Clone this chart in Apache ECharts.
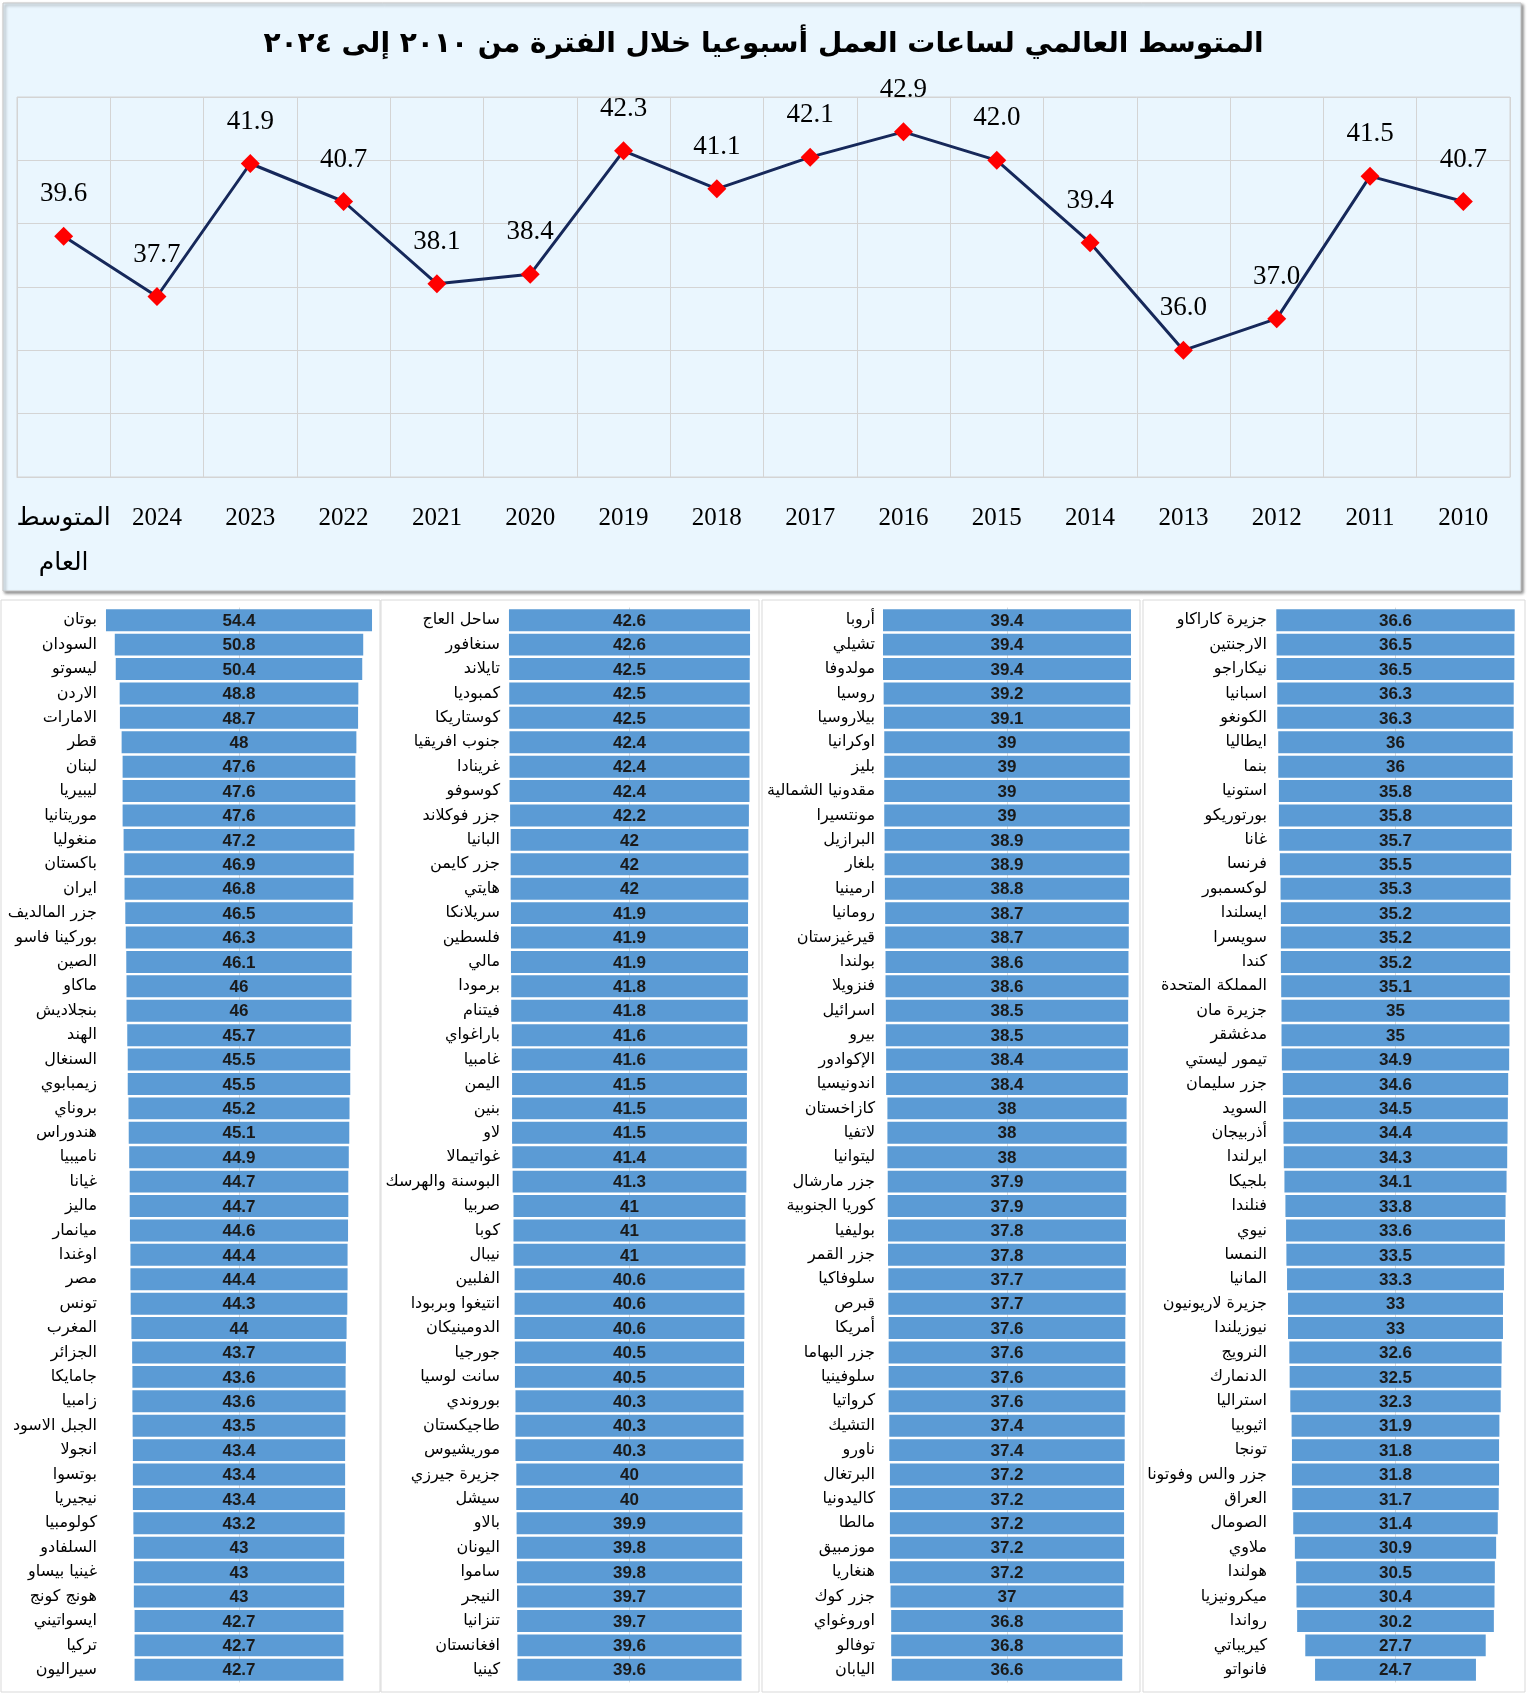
<!DOCTYPE html>
<html>
<head>
<meta charset="utf-8">
<script src="https://cdn.jsdelivr.net/npm/echarts@6/dist/echarts.min.js"></script>
<style>
html,body{margin:0;padding:0;background:#fff;}
#chart{width:1527px;height:1693px;}
</style>
</head>
<body>
<div id="chart"></div>
<script>
// ---------- DATA ----------
const titleText = 'المتوسط العالمي لساعات العمل أسبوعيا خلال الفترة من ٢٠١٠ إلى ٢٠٢٤';
const years = ['المتوسط\nالعام','2024','2023','2022','2021','2020','2019','2018','2017','2016','2015','2014','2013','2012','2011','2010'];
const avgHours = [39.6, 37.7, 41.9, 40.7, 38.1, 38.4, 42.3, 41.1, 42.1, 42.9, 42.0, 39.4, 36.0, 37.0, 41.5, 40.7];

const countries1 = ['بوتان','السودان','ليسوتو','الاردن','الامارات','قطر','لبنان','ليبيريا','موريتانيا','منغوليا','باكستان','ايران','جزر المالديف','بوركينا فاسو','الصين','ماكاو','بنجلاديش','الهند','السنغال','زيمبابوي','بروناي','هندوراس','ناميبيا','غيانا','ماليز','ميانمار','اوغندا','مصر','تونس','المغرب','الجزائر','جامايكا','زامبيا','الجبل الاسود','انجولا','بوتسوا','نيجيريا','كولومبيا','السلفادو','غينيا بيساو','هونج كونج','ايسواتيني','تركيا','سيراليون'];
const hours1 = [54.4,50.8,50.4,48.8,48.7,48,47.6,47.6,47.6,47.2,46.9,46.8,46.5,46.3,46.1,46,46,45.7,45.5,45.5,45.2,45.1,44.9,44.7,44.7,44.6,44.4,44.4,44.3,44,43.7,43.6,43.6,43.5,43.4,43.4,43.4,43.2,43,43,43,42.7,42.7,42.7];

const countries2 = ['ساحل العاج','سنغافور','تايلاند','كمبوديا','كوستاريكا','جنوب افريقيا','غرينادا','كوسوفو','جزر فوكلاند','البانيا','جزر كايمن','هايتي','سريلانكا','فلسطين','مالي','برمودا','فيتنام','باراغواي','غامبيا','اليمن','بنين','لاو','غواتيمالا','البوسنة والهرسك','صربيا','كوبا','نيبال','الفلبين','انتيغوا وبربودا','الدومينيكان','جورجيا','سانت لوسيا','بوروندي','طاجيكستان','موريشيوس','جزيرة جيرزي','سيشل','بالاو','اليونان','ساموا','النيجر','تنزانيا','افغانستان','كينيا'];
const hours2 = [42.6,42.6,42.5,42.5,42.5,42.4,42.4,42.4,42.2,42,42,42,41.9,41.9,41.9,41.8,41.8,41.6,41.6,41.5,41.5,41.5,41.4,41.3,41,41,41,40.6,40.6,40.6,40.5,40.5,40.3,40.3,40.3,40,40,39.9,39.8,39.8,39.7,39.7,39.6,39.6];

const countries3 = ['أروبا','تشيلي','مولدوفا','روسيا','بيلاروسيا','اوكرانيا','بليز','مقدونيا الشمالية','مونتسيرا','البرازيل','بلغار','ارمينيا','رومانيا','قيرغيزستان','بولندا','فنزويلا','اسرائيل','بيرو','الإكوادور','اندونيسيا','كازاخستان','لاتفيا','ليتوانيا','جزر مارشال','كوريا الجنوبية','بوليفيا','جزر القمر','سلوفاكيا','قبرص','أمريكا','جزر البهاما','سلوفينيا','كرواتيا','التشيك','ناورو','البرتغال','كاليدونيا','مالطا','موزمبيق','هنغاريا','جزر كوك','اوروغواي','توفالو','اليابان'];
const hours3 = [39.4,39.4,39.4,39.2,39.1,39,39,39,39,38.9,38.9,38.8,38.7,38.7,38.6,38.6,38.5,38.5,38.4,38.4,38,38,38,37.9,37.9,37.8,37.8,37.7,37.7,37.6,37.6,37.6,37.6,37.4,37.4,37.2,37.2,37.2,37.2,37.2,37,36.8,36.8,36.6];

const countries4 = ['جزيرة كاراكاو','الارجنتين','نيكاراجو','اسبانيا','الكونغو','ايطاليا','بنما','استونيا','بورتوريكو','غانا','فرنسا','لوكسمبور','ايسلندا','سويسرا','كندا','المملكة المتحدة','جزيرة مان','مدغشقر','تيمور ليستي','جزر سليمان','السويد','أذربيجان','ايرلندا','بلجيكا','فنلندا','نيوي','النمسا','المانيا','جزيرة لاريونيون','نيوزيلندا','النرويج','الدنمارك','استراليا','اثيوبيا','تونجا','جزر والس وفوتونا','العراق','الصومال','ملاوي','هولندا','ميكرونيزيا','رواندا','كيريباتي','فانواتو'];
const hours4 = [36.6,36.5,36.5,36.3,36.3,36,36,35.8,35.8,35.7,35.5,35.3,35.2,35.2,35.2,35.1,35,35,34.9,34.6,34.5,34.4,34.3,34.1,33.8,33.6,33.5,33.3,33,33,32.6,32.5,32.3,31.9,31.8,31.8,31.7,31.4,30.9,30.5,30.4,30.2,27.7,24.7];

// ---------- LAYOUT ----------
const panels = [
  {names: countries1, vals: hours1, frameX: 1, frameW: 379, axisX: 105, width: 268, half: 27.4},
  {names: countries2, vals: hours2, frameX: 381, frameW: 378, axisX: 508, width: 243, half: 21.47},
  {names: countries3, vals: hours3, frameX: 762, frameW: 378, axisX: 883, width: 248, half: 19.7},
  {names: countries4, vals: hours4, frameX: 1143, frameW: 382, axisX: 1275, width: 241, half: 18.5}
];
const PANEL_TOP = 600, PANEL_BOTTOM = 1692;
const BAR_TOP = 608, BAR_H = 1074;

const chart = echarts.init(document.getElementById('chart'));

const grids = [{left: 17, top: 97, width: 1493, height: 380, show: true, borderColor: '#d4d4d4', borderWidth: 1}];
const xAxes = [{
  gridIndex: 0, type: 'category', data: years, boundaryGap: true,
  axisLine: {show: true, lineStyle: {color: '#d4d4d4'}},
  axisTick: {show: false},
  splitLine: {show: true, lineStyle: {color: '#d4d4d4', width: 1}},
  axisLabel: {interval: 0, margin: 19, fontFamily: 'Liberation Serif, DejaVu Sans', fontSize: 25, color: '#000', lineHeight: 45}
}];
const yAxes = [{
  gridIndex: 0, type: 'value', min: 32, max: 44, interval: 2,
  axisLabel: {show: false}, axisLine: {show: false}, axisTick: {show: false},
  splitLine: {show: true, lineStyle: {color: '#d4d4d4', width: 1}}
}];
const series = [{
  type: 'line', xAxisIndex: 0, yAxisIndex: 0, data: avgHours,
  symbol: 'diamond', symbolSize: [19, 19],
  itemStyle: {color: '#ff0000'},
  lineStyle: {color: '#16285a', width: 3},
  label: {show: true, position: 'top', distance: 19, fontFamily: 'Liberation Serif', fontSize: 27, color: '#000',
    formatter: p => p.value.toFixed(1)},
  z: 5
}];

const graphics = [
  {type: 'rect', shape: {x: 3, y: 3, width: 1518, height: 588}, style: {fill: '#eaf6fe', stroke: '#c4c4c4', lineWidth: 1, shadowBlur: 3, shadowOffsetX: 2, shadowOffsetY: 2, shadowColor: 'rgba(0,0,0,0.45)'}, z: -10}
];

panels.forEach((p, k) => {
  const gi = k + 1;
  graphics.push({type: 'rect', shape: {x: p.frameX, y: PANEL_TOP, width: p.frameW, height: PANEL_BOTTOM - PANEL_TOP}, style: {fill: '#fff', stroke: '#d9d9d9', lineWidth: 1}, z: -10});
  grids.push({left: p.axisX, top: BAR_TOP, width: p.width, height: BAR_H});
  xAxes.push({gridIndex: gi, type: 'value', min: -p.half, max: p.half, show: false, splitLine: {show: false}});
  yAxes.push({
    gridIndex: gi, type: 'category', data: p.names, inverse: true,
    axisLine: {show: true, lineStyle: {color: '#d9d9d9'}}, axisTick: {show: false},
    axisLabel: {interval: 0, margin: 8, fontFamily: 'DejaVu Sans', fontSize: 16, color: '#000'}
  });
  series.push({
    type: 'custom', xAxisIndex: gi, yAxisIndex: gi,
    data: p.vals.map((v, i) => [v, i]),
    encode: {x: 0, y: 1},
    renderItem: function (params, api) {
      const v = api.value(0), idx = api.value(1);
      const a = api.coord([-v / 2, idx]);
      const b = api.coord([v / 2, idx]);
      const c = api.coord([0, idx]);
      const h = api.size([0, 1])[1] * 0.9;
      return {
        type: 'group',
        children: [
          {type: 'rect', shape: {x: a[0], y: a[1] - h / 2, width: b[0] - a[0], height: h}, style: {fill: '#5b9bd5'}},
          {type: 'text', x: c[0], y: c[1] + 1, style: {text: String(v), align: 'center', verticalAlign: 'middle', fontFamily: 'Liberation Sans', fontWeight: 'bold', fontSize: 17, fill: '#1a1a1a'}}
        ]
      };
    }
  });
});

chart.setOption({
  animation: false,
  backgroundColor: '#ffffff',
  title: {text: titleText, left: 'center', top: 26, textStyle: {fontFamily: 'DejaVu Sans', fontWeight: 'bold', fontSize: 28, color: '#000'}},
  graphic: graphics,
  grid: grids,
  xAxis: xAxes,
  yAxis: yAxes,
  series: series
});
</script>
</body>
</html>
